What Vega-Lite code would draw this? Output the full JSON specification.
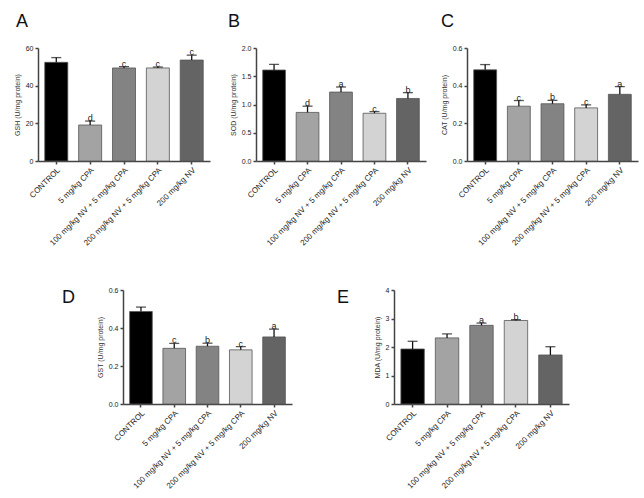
{
 "$schema": "https://vega.github.io/schema/vega-lite/v6.json",
 "padding": {"left": 13, "top": 13, "right": 2, "bottom": 2},
 "background": "white",
 "data": {"values": [
  {"panel": "A", "group": "CONTROL", "mean": 52.4, "upper": 54.9, "letter": ""},
  {"panel": "A", "group": "5 mg/kg CPA", "mean": 19.1, "upper": 21.2, "letter": "d"},
  {"panel": "A", "group": "100 mg/kg NV + 5 mg/kg CPA", "mean": 49.4, "upper": 50.1, "letter": "c"},
  {"panel": "A", "group": "200 mg/kg NV + 5 mg/kg CPA", "mean": 49.4, "upper": 49.9, "letter": "c"},
  {"panel": "A", "group": "200 mg/kg NV", "mean": 53.6, "upper": 56.2, "letter": "c"},
  {"panel": "B", "group": "CONTROL", "mean": 1.61, "upper": 1.71, "letter": ""},
  {"panel": "B", "group": "5 mg/kg CPA", "mean": 0.86, "upper": 0.97, "letter": "d"},
  {"panel": "B", "group": "100 mg/kg NV + 5 mg/kg CPA", "mean": 1.22, "upper": 1.31, "letter": "a"},
  {"panel": "B", "group": "200 mg/kg NV + 5 mg/kg CPA", "mean": 0.845, "upper": 0.875, "letter": "c"},
  {"panel": "B", "group": "200 mg/kg NV", "mean": 1.107, "upper": 1.21, "letter": "b"},
  {"panel": "C", "group": "CONTROL", "mean": 0.484, "upper": 0.512, "letter": ""},
  {"panel": "C", "group": "5 mg/kg CPA", "mean": 0.291, "upper": 0.321, "letter": "c"},
  {"panel": "C", "group": "100 mg/kg NV + 5 mg/kg CPA", "mean": 0.304, "upper": 0.322, "letter": "b"},
  {"panel": "C", "group": "200 mg/kg NV + 5 mg/kg CPA", "mean": 0.282, "upper": 0.298, "letter": "c"},
  {"panel": "C", "group": "200 mg/kg NV", "mean": 0.354, "upper": 0.395, "letter": "a"},
  {"panel": "D", "group": "CONTROL", "mean": 0.487, "upper": 0.51, "letter": ""},
  {"panel": "D", "group": "5 mg/kg CPA", "mean": 0.293, "upper": 0.319, "letter": "c"},
  {"panel": "D", "group": "100 mg/kg NV + 5 mg/kg CPA", "mean": 0.304, "upper": 0.32, "letter": "b"},
  {"panel": "D", "group": "200 mg/kg NV + 5 mg/kg CPA", "mean": 0.285, "upper": 0.302, "letter": "c"},
  {"panel": "D", "group": "200 mg/kg NV", "mean": 0.353, "upper": 0.394, "letter": "a"},
  {"panel": "E", "group": "CONTROL", "mean": 1.93, "upper": 2.2, "letter": ""},
  {"panel": "E", "group": "5 mg/kg CPA", "mean": 2.32, "upper": 2.46, "letter": ""},
  {"panel": "E", "group": "100 mg/kg NV + 5 mg/kg CPA", "mean": 2.76, "upper": 2.84, "letter": "a"},
  {"panel": "E", "group": "200 mg/kg NV + 5 mg/kg CPA", "mean": 2.93, "upper": 2.96, "letter": "b"},
  {"panel": "E", "group": "200 mg/kg NV", "mean": 1.72, "upper": 2.01, "letter": ""}
 ]},
 "config": {
  "view": {"stroke": null},
  "font": "Liberation Sans",
  "axis": {"grid": false, "domainColor": "#444", "tickColor": "#444", "domainWidth": 1.5, "tickWidth": 1.5, "labelColor": "#222", "titleColor": "#333", "labelFont": "Liberation Sans", "titleFont": "Liberation Sans", "titleFontWeight": "normal", "labelOverlap": false},
  "axisQuantitative": {"labelOverlap": false},
  "axisX": {"labelAngle": -45, "labelFontSize": 8, "tickSize": 3, "labelPadding": 2, "title": null},
  "axisY": {"labelFontSize": 7, "titleFontSize": 7, "tickSize": 3, "labelPadding": 2, "titlePadding": 5, "labelOverlap": false, "labelFlush": false, "labelBound": false},
  "title": {"font": "Liberation Sans", "fontSize": 18, "fontWeight": "normal", "anchor": "start", "frame": "group", "baseline": "alphabetic", "offset": 0, "color": "#111"}
 },
 "bounds": "flush",
 "spacing": 242,
 "vconcat": [
  {"bounds": "flush", "spacing": 46, "hconcat": [
   {"width": 172, "height": 113,
    "title": {"text": "A", "dx": -22, "dy": -9},
    "transform": [{"filter": "datum.panel == 'A'"}],
    "encoding": {
     "x": {"field": "group", "type": "nominal", "sort": null, "scale": {"paddingInner": 0.32, "paddingOuter": 0.2}},
     "y": {"field": "mean", "type": "quantitative", "title": "GSH (U/mg protein)", "scale": {"domain": [0, 60]}, "axis": {"values": [0, 20, 40, 60], "labelOverlap": false}}
    },
    "layer": [
     {"mark": {"type": "bar", "stroke": "#555", "strokeWidth": 0.8}, "encoding": {"color": {"field": "group", "type": "nominal", "legend": null, "scale": {"domain": ["CONTROL", "5 mg/kg CPA", "100 mg/kg NV + 5 mg/kg CPA", "200 mg/kg NV + 5 mg/kg CPA", "200 mg/kg NV"], "range": ["#000000", "#a3a3a3", "#838383", "#d3d3d3", "#646464"]}}}},
     {"mark": {"type": "rule", "color": "#111", "strokeWidth": 1.3}, "encoding": {"y2": {"field": "upper"}}},
     {"mark": {"type": "tick", "color": "#111", "thickness": 1.3, "size": 10, "yOffset": 0}, "encoding": {"y": {"field": "upper", "type": "quantitative", "title": "GSH (U/mg protein)", "axis": {"values": [0, 20, 40, 60], "labelOverlap": false}}}},
     {"mark": {"type": "text", "baseline": "alphabetic", "fontSize": 9, "color": "#222"}, "encoding": {"y": {"field": "upper", "type": "quantitative", "title": "GSH (U/mg protein)", "axis": {"values": [0, 20, 40, 60], "labelOverlap": false}}, "text": {"field": "letter"}}}
    ]},
   {"bounds": "flush", "spacing": 41, "hconcat": [
    {"width": 170, "height": 113,
     "title": {"text": "B", "dx": -28, "dy": -9},
     "transform": [{"filter": "datum.panel == 'B'"}],
     "encoding": {
      "x": {"field": "group", "type": "nominal", "sort": null, "scale": {"paddingInner": 0.32, "paddingOuter": 0.2}},
      "y": {"field": "mean", "type": "quantitative", "title": "SOD (U/mg protein)", "scale": {"domain": [0, 2]}, "axis": {"values": [0, 0.5, 1, 1.5, 2], "format": ".1f", "labelOverlap": false}}
     },
     "layer": [
      {"mark": {"type": "bar", "stroke": "#555", "strokeWidth": 0.8}, "encoding": {"color": {"field": "group", "type": "nominal", "legend": null, "scale": {"domain": ["CONTROL", "5 mg/kg CPA", "100 mg/kg NV + 5 mg/kg CPA", "200 mg/kg NV + 5 mg/kg CPA", "200 mg/kg NV"], "range": ["#000000", "#a3a3a3", "#838383", "#d3d3d3", "#646464"]}}}},
      {"mark": {"type": "rule", "color": "#111", "strokeWidth": 1.3}, "encoding": {"y2": {"field": "upper"}}},
      {"mark": {"type": "tick", "color": "#111", "thickness": 1.3, "size": 10}, "encoding": {"y": {"field": "upper", "type": "quantitative", "title": "SOD (U/mg protein)", "axis": {"values": [0, 0.5, 1, 1.5, 2], "format": ".1f", "labelOverlap": false}}}},
      {"mark": {"type": "text", "baseline": "alphabetic", "fontSize": 9, "color": "#222"}, "encoding": {"y": {"field": "upper", "type": "quantitative", "title": "SOD (U/mg protein)", "axis": {"values": [0, 0.5, 1, 1.5, 2], "format": ".1f", "labelOverlap": false}}, "text": {"field": "letter"}}}
     ]},
    {"width": 171, "height": 113,
     "title": {"text": "C", "dx": -26, "dy": -9},
     "transform": [{"filter": "datum.panel == 'C'"}],
     "encoding": {
      "x": {"field": "group", "type": "nominal", "sort": null, "scale": {"paddingInner": 0.32, "paddingOuter": 0.2}},
      "y": {"field": "mean", "type": "quantitative", "title": "CAT (U/mg protein)", "scale": {"domain": [0, 0.6]}, "axis": {"values": [0, 0.2, 0.4, 0.6], "format": ".1f", "labelOverlap": false}}
     },
     "layer": [
      {"mark": {"type": "bar", "stroke": "#555", "strokeWidth": 0.8}, "encoding": {"color": {"field": "group", "type": "nominal", "legend": null, "scale": {"domain": ["CONTROL", "5 mg/kg CPA", "100 mg/kg NV + 5 mg/kg CPA", "200 mg/kg NV + 5 mg/kg CPA", "200 mg/kg NV"], "range": ["#000000", "#a3a3a3", "#838383", "#d3d3d3", "#646464"]}}}},
      {"mark": {"type": "rule", "color": "#111", "strokeWidth": 1.3}, "encoding": {"y2": {"field": "upper"}}},
      {"mark": {"type": "tick", "color": "#111", "thickness": 1.3, "size": 10}, "encoding": {"y": {"field": "upper", "type": "quantitative", "title": "CAT (U/mg protein)", "axis": {"values": [0, 0.2, 0.4, 0.6], "format": ".1f", "labelOverlap": false}}}},
      {"mark": {"type": "text", "baseline": "alphabetic", "fontSize": 9, "color": "#222"}, "encoding": {"y": {"field": "upper", "type": "quantitative", "title": "CAT (U/mg protein)", "axis": {"values": [0, 0.2, 0.4, 0.6], "format": ".1f", "labelOverlap": false}}, "text": {"field": "letter"}}}
     ]}
   ]}
  ]},
  {"bounds": "flush", "spacing": 0, "hconcat": [
   {"width": 85, "height": 10, "mark": {"type": "point", "opacity": 0}, "encoding": {}},
   {"bounds": "flush", "spacing": 102, "hconcat": [
    {"width": 169, "height": 114,
     "title": {"text": "D", "dx": -61, "dy": 25},
     "transform": [{"filter": "datum.panel == 'D'"}],
     "encoding": {
      "x": {"field": "group", "type": "nominal", "sort": null, "scale": {"paddingInner": 0.32, "paddingOuter": 0.2}},
      "y": {"field": "mean", "type": "quantitative", "title": "GST (U/mg protein)", "scale": {"domain": [0, 0.6]}, "axis": {"values": [0, 0.2, 0.4, 0.6], "format": ".1f", "labelOverlap": false}}
     },
     "layer": [
      {"mark": {"type": "bar", "stroke": "#555", "strokeWidth": 0.8}, "encoding": {"color": {"field": "group", "type": "nominal", "legend": null, "scale": {"domain": ["CONTROL", "5 mg/kg CPA", "100 mg/kg NV + 5 mg/kg CPA", "200 mg/kg NV + 5 mg/kg CPA", "200 mg/kg NV"], "range": ["#000000", "#a3a3a3", "#838383", "#d3d3d3", "#646464"]}}}},
      {"mark": {"type": "rule", "color": "#111", "strokeWidth": 1.3}, "encoding": {"y2": {"field": "upper"}}},
      {"mark": {"type": "tick", "color": "#111", "thickness": 1.3, "size": 10}, "encoding": {"y": {"field": "upper", "type": "quantitative", "title": "GST (U/mg protein)", "axis": {"values": [0, 0.2, 0.4, 0.6], "format": ".1f", "labelOverlap": false}}}},
      {"mark": {"type": "text", "baseline": "alphabetic", "fontSize": 9, "color": "#222"}, "encoding": {"y": {"field": "upper", "type": "quantitative", "title": "GST (U/mg protein)", "axis": {"values": [0, 0.2, 0.4, 0.6], "format": ".1f", "labelOverlap": false}}, "text": {"field": "letter"}}}
     ]},
    {"width": 175, "height": 114,
     "title": {"text": "E", "dx": -57, "dy": 25},
     "transform": [{"filter": "datum.panel == 'E'"}],
     "encoding": {
      "x": {"field": "group", "type": "nominal", "sort": null, "scale": {"paddingInner": 0.32, "paddingOuter": 0.2}},
      "y": {"field": "mean", "type": "quantitative", "title": "MDA (U/mg protein)", "scale": {"domain": [0, 4]}, "axis": {"values": [0, 1, 2, 3, 4], "labelOverlap": false}}
     },
     "layer": [
      {"mark": {"type": "bar", "stroke": "#555", "strokeWidth": 0.8}, "encoding": {"color": {"field": "group", "type": "nominal", "legend": null, "scale": {"domain": ["CONTROL", "5 mg/kg CPA", "100 mg/kg NV + 5 mg/kg CPA", "200 mg/kg NV + 5 mg/kg CPA", "200 mg/kg NV"], "range": ["#000000", "#a3a3a3", "#838383", "#d3d3d3", "#646464"]}}}},
      {"mark": {"type": "rule", "color": "#111", "strokeWidth": 1.3}, "encoding": {"y2": {"field": "upper"}}},
      {"mark": {"type": "tick", "color": "#111", "thickness": 1.3, "size": 10}, "encoding": {"y": {"field": "upper", "type": "quantitative", "title": "MDA (U/mg protein)", "axis": {"values": [0, 1, 2, 3, 4], "labelOverlap": false}}}},
      {"mark": {"type": "text", "baseline": "alphabetic", "fontSize": 9, "color": "#222"}, "encoding": {"y": {"field": "upper", "type": "quantitative", "title": "MDA (U/mg protein)", "axis": {"values": [0, 1, 2, 3, 4], "labelOverlap": false}}, "text": {"field": "letter"}}}
     ]}
   ]}
  ]}
 ]
}
